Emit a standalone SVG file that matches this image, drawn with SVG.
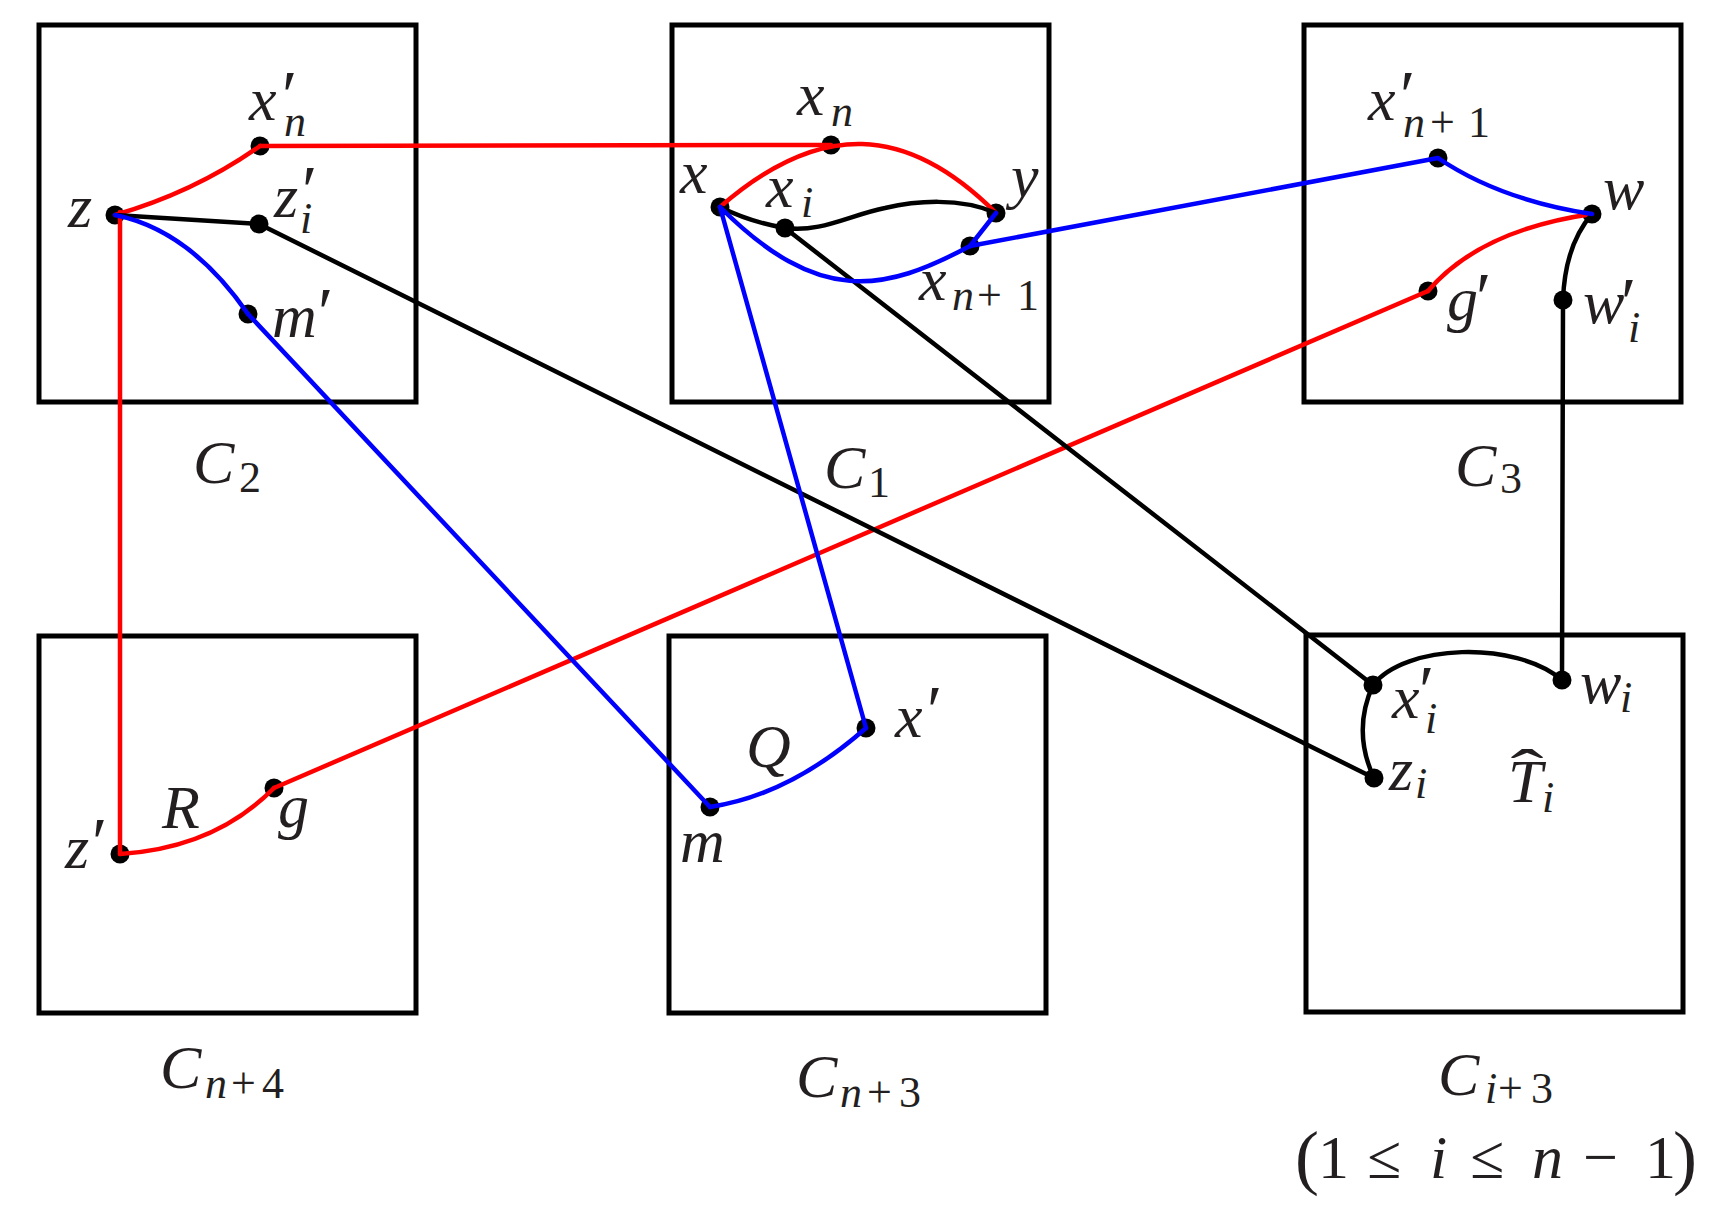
<svg xmlns="http://www.w3.org/2000/svg" xmlns:xlink="http://www.w3.org/1999/xlink" width="1717" height="1219" viewBox="0 0 1717 1219">
<defs>
<rect id="box" width="377" height="377" fill="none" stroke="#000" stroke-width="5"/>
<circle id="dot" r="9.5" fill="#000"/>
</defs>
<rect width="1717" height="1219" fill="#fff"/>
<g id="boxes">
<g id="C2"><use xlink:href="#box" x="39" y="25"/>
<text style="font-family:'Liberation Serif';font-style:italic;font-size:62px;fill:#231f20" x="193" y="483">C<tspan style="font-style:normal;font-size:44px" x="239" y="492">2</tspan></text></g>
<g id="C1"><use xlink:href="#box" x="672" y="25"/>
<text style="font-family:'Liberation Serif';font-style:italic;font-size:62px;fill:#231f20" x="824" y="488">C<tspan style="font-style:normal;font-size:44px" x="868" y="497">1</tspan></text></g>
<g id="C3"><use xlink:href="#box" x="1304" y="25"/>
<text style="font-family:'Liberation Serif';font-style:italic;font-size:62px;fill:#231f20" x="1455" y="486">C<tspan style="font-style:normal;font-size:44px" x="1500" y="493">3</tspan></text></g>
<g id="Cn4"><use xlink:href="#box" x="39" y="636"/>
<text style="font-family:'Liberation Serif';font-style:italic;font-size:62px;fill:#231f20" x="160" y="1088">C<tspan style="font-size:44px" x="205" y="1098">n</tspan><tspan style="font-style:normal;font-size:44px" x="231" y="1098">+</tspan><tspan style="font-style:normal;font-size:44px" x="262" y="1098">4</tspan></text></g>
<g id="Cn3"><use xlink:href="#box" x="669" y="636"/>
<text style="font-family:'Liberation Serif';font-style:italic;font-size:62px;fill:#231f20" x="796" y="1097">C<tspan style="font-size:44px" x="840" y="1107">n</tspan><tspan style="font-style:normal;font-size:44px" x="867" y="1107">+</tspan><tspan style="font-style:normal;font-size:44px" x="899" y="1107">3</tspan></text></g>
<g id="Ci3"><use xlink:href="#box" x="1306" y="635"/>
<text style="font-family:'Liberation Serif';font-style:italic;font-size:62px;fill:#231f20" x="1438" y="1095">C<tspan style="font-size:44px" x="1485" y="1103">i</tspan><tspan style="font-style:normal;font-size:44px" x="1498" y="1103">+</tspan><tspan style="font-style:normal;font-size:44px" x="1531" y="1103">3</tspan></text>
<text style="font-family:'Liberation Serif';font-style:normal;font-size:62px;fill:#231f20" x="1295" y="1181"><tspan style="font-size:72px">(</tspan><tspan x="1318" y="1178">1</tspan><tspan x="1367" y="1178">≤</tspan><tspan style="font-style:italic" x="1430" y="1178">i</tspan><tspan x="1470" y="1178">≤</tspan><tspan style="font-style:italic" x="1532" y="1178">n</tspan><tspan x="1583" y="1178">−</tspan><tspan x="1645" y="1178">1</tspan><tspan style="font-size:72px" x="1673" y="1181">)</tspan></text>
<text style="font-family:'Liberation Serif';font-style:italic;font-size:62px;fill:#231f20" x="1508" y="802">T<tspan style="font-size:44px" x="1542" y="812">i</tspan></text>
<text style="font-family:'Liberation Serif';font-style:normal;font-size:62px;fill:#231f20" transform="translate(1527,792) scale(1.6,1)" text-anchor="middle" x="0" y="0">ˆ</text></g>
</g>
<g id="nodes">
<g id="n-z"><use xlink:href="#dot" x="115" y="215"/><text style="font-family:'Liberation Serif';font-style:italic;font-size:62px;fill:#231f20" x="68" y="227">z</text></g>
<g id="n-xpn"><use xlink:href="#dot" x="260" y="146"/><text style="font-family:'Liberation Serif';font-style:italic;font-size:62px;fill:#231f20" x="249" y="120">x<tspan style="font-style:normal;font-size:70px" x="282" y="119">′</tspan><tspan style="font-size:44px" x="284" y="136">n</tspan></text></g>
<g id="n-zpi"><use xlink:href="#dot" x="259" y="224"/><text style="font-family:'Liberation Serif';font-style:italic;font-size:62px;fill:#231f20" x="274" y="217">z<tspan style="font-style:normal;font-size:70px" x="302" y="214">′</tspan><tspan style="font-size:44px" x="300" y="233">i</tspan></text></g>
<g id="n-mp"><use xlink:href="#dot" x="248" y="314"/><text style="font-family:'Liberation Serif';font-style:italic;font-size:62px;fill:#231f20" x="272" y="337">m<tspan style="font-style:normal;font-size:70px" x="318" y="336">′</tspan></text></g>
<g id="n-x"><use xlink:href="#dot" x="720" y="207"/><text style="font-family:'Liberation Serif';font-style:italic;font-size:62px;fill:#231f20" x="680" y="193">x</text></g>
<g id="n-xn"><use xlink:href="#dot" x="831" y="145"/><text style="font-family:'Liberation Serif';font-style:italic;font-size:62px;fill:#231f20" x="797" y="115">x<tspan style="font-size:44px" x="831" y="126">n</tspan></text></g>
<g id="n-y"><use xlink:href="#dot" x="996" y="213"/><text style="font-family:'Liberation Serif';font-style:italic;font-size:62px;fill:#231f20" x="1011" y="197">y</text></g>
<g id="n-xi"><use xlink:href="#dot" x="785" y="228"/><text style="font-family:'Liberation Serif';font-style:italic;font-size:62px;fill:#231f20" x="766" y="207">x<tspan style="font-size:44px" x="801" y="217">i</tspan></text></g>
<g id="n-xn1"><use xlink:href="#dot" x="970" y="246"/><text style="font-family:'Liberation Serif';font-style:italic;font-size:62px;fill:#231f20" x="919" y="300">x<tspan style="font-size:44px" x="952" y="310">n</tspan><tspan style="font-style:normal;font-size:44px" x="977" y="310">+</tspan><tspan style="font-style:normal;font-size:44px" x="1017" y="310">1</tspan></text></g>
<g id="n-xpn1"><use xlink:href="#dot" x="1438" y="158"/><text style="font-family:'Liberation Serif';font-style:italic;font-size:62px;fill:#231f20" x="1368" y="120">x<tspan style="font-style:normal;font-size:70px" x="1400" y="119">′</tspan><tspan style="font-size:44px" x="1403" y="137">n</tspan><tspan style="font-style:normal;font-size:44px" x="1430" y="137">+</tspan><tspan style="font-style:normal;font-size:44px" x="1468" y="137">1</tspan></text></g>
<g id="n-w"><use xlink:href="#dot" x="1592" y="214"/><text style="font-family:'Liberation Serif';font-style:italic;font-size:62px;fill:#231f20" x="1603" y="209">w</text></g>
<g id="n-gp"><use xlink:href="#dot" x="1428" y="291"/><text style="font-family:'Liberation Serif';font-style:italic;font-size:62px;fill:#231f20" x="1447" y="320">g<tspan style="font-style:normal;font-size:70px" x="1476" y="321">′</tspan></text></g>
<g id="n-wpi"><use xlink:href="#dot" x="1563" y="300"/><text style="font-family:'Liberation Serif';font-style:italic;font-size:62px;fill:#231f20" x="1583" y="323">w<tspan style="font-style:normal;font-size:70px" x="1621" y="326">′</tspan><tspan style="font-size:44px" x="1628" y="342">i</tspan></text></g>
<g id="n-zp"><use xlink:href="#dot" x="120" y="854"/><text style="font-family:'Liberation Serif';font-style:italic;font-size:62px;fill:#231f20" x="65" y="868">z<tspan style="font-style:normal;font-size:70px" x="92" y="866">′</tspan></text></g>
<g id="n-g"><use xlink:href="#dot" x="274" y="788"/><text style="font-family:'Liberation Serif';font-style:italic;font-size:62px;fill:#231f20" x="278" y="827">g</text></g>
<g id="n-m"><use xlink:href="#dot" x="710" y="807"/><text style="font-family:'Liberation Serif';font-style:italic;font-size:62px;fill:#231f20" x="680" y="862">m</text></g>
<g id="n-xp"><use xlink:href="#dot" x="866" y="728"/><text style="font-family:'Liberation Serif';font-style:italic;font-size:62px;fill:#231f20" x="895" y="737">x<tspan style="font-style:normal;font-size:70px" x="927" y="734">′</tspan></text></g>
<g id="n-xpi"><use xlink:href="#dot" x="1373" y="685"/><text style="font-family:'Liberation Serif';font-style:italic;font-size:62px;fill:#231f20" x="1392" y="718">x<tspan style="font-style:normal;font-size:70px" x="1419" y="714">′</tspan><tspan style="font-size:44px" x="1425" y="733">i</tspan></text></g>
<g id="n-zi"><use xlink:href="#dot" x="1374" y="778"/><text style="font-family:'Liberation Serif';font-style:italic;font-size:62px;fill:#231f20" x="1389" y="790">z<tspan style="font-size:44px" x="1415" y="798">i</tspan></text></g>
<g id="n-wi"><use xlink:href="#dot" x="1562" y="680"/><text style="font-family:'Liberation Serif';font-style:italic;font-size:62px;fill:#231f20" x="1580" y="703">w<tspan style="font-size:44px" x="1620" y="712">i</tspan></text></g>
<g id="lbl-R"><text style="font-family:'Liberation Serif';font-style:italic;font-size:62px;fill:#231f20" x="162" y="828">R</text></g>
<g id="lbl-Q"><text style="font-family:'Liberation Serif';font-style:italic;font-size:62px;fill:#231f20" x="746" y="767">Q</text></g>
</g>
<g id="connectors" fill="none" stroke-width="4.5" stroke-linecap="round" stroke-linejoin="round">
<g stroke="#ff0000">
<path d="M115,215 Q195,192 260,146"/>
<path d="M260,146 L831,145"/>
<path d="M120,212 L120,854"/>
<path d="M120,854 Q215,848 274,788"/>
<path d="M274,788 L1428,291"/>
<path d="M1428,291 Q1480,230 1592,214"/>
<path d="M720,207 C820,120 907,124 996,213"/>
</g>
<g stroke="#000000">
<path d="M720,207 Q750,222 785,228"/>
<path d="M785,228 C820,233 850,215 885,208 C915,201 960,197 996,213"/>
<path d="M115,215 L259,224"/>
<path d="M259,224 L1374,778"/>
<path d="M785,228 L1373,685"/>
<path d="M1592,214 Q1565,245 1563,300"/>
<path d="M1563,300 L1562,680"/>
<path d="M1373,685 C1405,644 1515,640 1562,680"/>
<path d="M1373,685 Q1352,731 1374,778"/>
</g>
<g stroke="#0000ff">
<path d="M115,215 Q190,230 248,314"/>
<path d="M248,314 L710,807"/>
<path d="M710,807 Q790,795 866,728"/>
<path d="M866,728 L720,207"/>
<path d="M720,207 C819,306 884,292 970,246"/>
<path d="M970,246 L996,213"/>
<path d="M970,246 L1438,158"/>
<path d="M1438,158 Q1500,200 1592,214"/>
</g>
</g>
</svg>
